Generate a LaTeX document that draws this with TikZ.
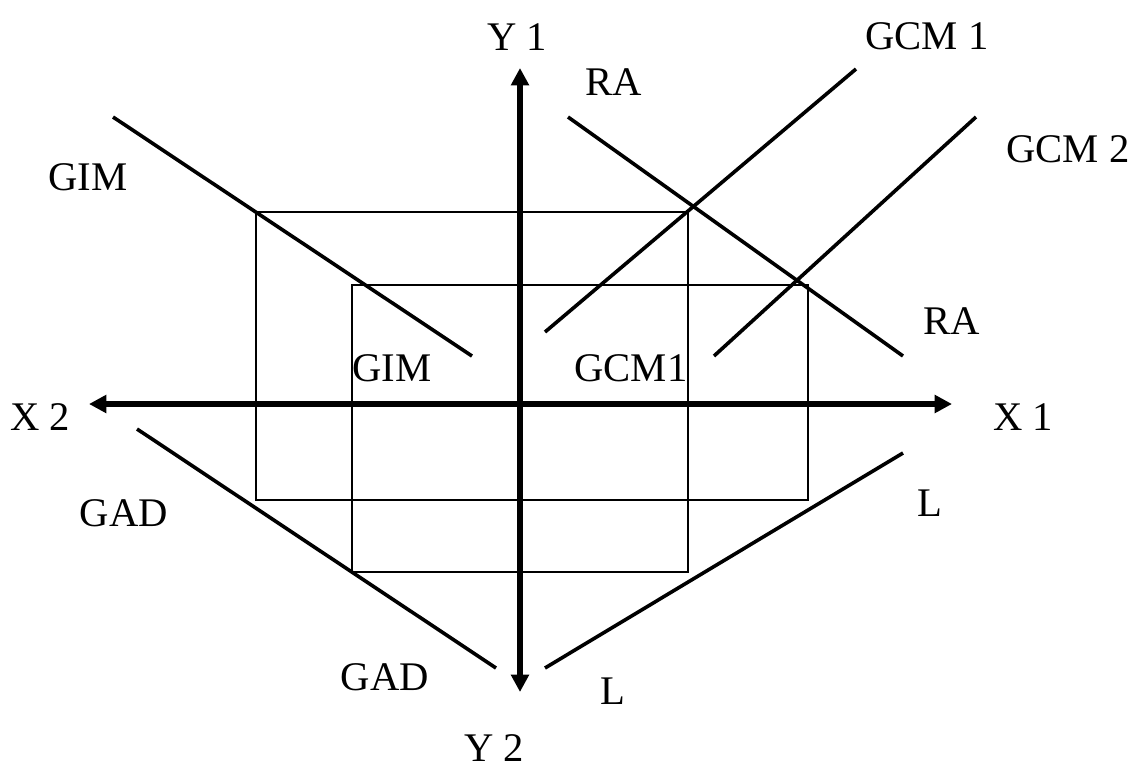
\documentclass[tikz,border=0pt]{standalone}
\usepackage{fontspec}
\setmainfont{Liberation Serif}
\usetikzlibrary{arrows.meta}
\tikzset{
  lbl/.style={inner sep=0pt, font=\fontsize{30.5}{36}\selectfont},
  axis/.style={line width=3.9pt, {Triangle[length=13pt,width=13pt]}-{Triangle[length=13pt,width=13pt]}},
  curve/.style={line width=2.7pt},
  frame/.style={line width=1.1pt, line join=miter}
}
\begin{document}
\begin{tikzpicture}[x=0.75pt,y=-0.75pt]
\useasboundingbox (0,0) rectangle (1133,765);
% axes
\coordinate (xl) at (89,404);
\coordinate (xr) at (952,404);
\coordinate (yt) at (520,68);
\coordinate (yb) at (520,692);
% frame
\draw[frame] (256,212) -- (688,212) -- (688,572) -- (352,572) -- (352,285) -- (808,285) -- (808,500) -- (256,500) -- cycle;
\draw[axis] (xl) -- (xr);
\draw[axis] (yb) -- (yt);
% lines
\coordinate (gim1) at (113,117);
\coordinate (gim2) at (472,356);
\coordinate (ra1) at (568,117);
\coordinate (ra2) at (903,356);
\coordinate (gcma) at (856,69);
\coordinate (gcmb) at (545,332);
\coordinate (gcm2a) at (976,117);
\coordinate (gcm2b) at (714,356);
\coordinate (gad1) at (137,429);
\coordinate (gad2) at (496,668);
\coordinate (l1) at (903,453);
\coordinate (l2) at (545,668);
\draw[curve] (gim1) -- (gim2);
\draw[curve] (ra1) -- (ra2);
\draw[curve] (gcma) -- (gcmb);
\draw[curve] (gcm2a) -- (gcm2b);
\draw[curve] (gad1) -- (gad2);
\draw[curve] (l1) -- (l2);
% labels
\node[lbl] (ly1) at (517,37) {Y 1};
\node[lbl] (ly2) at (494,748) {Y 2};
\node[lbl] (lx1) at (1023,417) {X 1};
\node[lbl] (lx2) at (40,417) {X 2};
\node[lbl] (lgcm1) at (927,36) {GCM 1};
\node[lbl] (lgcm2) at (1068,149) {GCM 2};
\node[lbl] (lra1) at (614,82) {RA};
\node[lbl] (lra2) at (952,321) {RA};
\node[lbl] (lgim1) at (88,177) {GIM};
\node[lbl] (lgim2) at (392,368) {GIM};
\node[lbl] (lgcmc) at (631,368) {GCM1};
\node[lbl] (lgad1) at (124,513) {GAD};
\node[lbl] (lgad2) at (385,677) {GAD};
\node[lbl] (ll1) at (930,503) {L};
\node[lbl] (ll2) at (613,691) {L};
\end{tikzpicture}
\end{document}
